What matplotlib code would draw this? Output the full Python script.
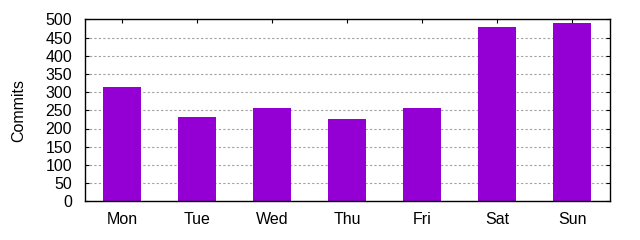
import matplotlib
matplotlib.use("Agg")
import matplotlib.pyplot as plt
import numpy as np

days = ["Mon", "Tue", "Wed", "Thu", "Fri", "Sat", "Sun"]
commits = [314, 231, 256, 226, 256, 479, 490]
yticks = list(range(0, 501, 50))

plt.rcParams["font.family"] = ["Liberation Sans", "DejaVu Sans"]

fig = plt.figure(figsize=(6.4, 2.4), dpi=100)
ax = fig.add_axes([84.5 / 640, 1 - 201.3 / 240, 525.2 / 640, 182 / 240])

x = np.arange(len(days))
ax.bar(x, commits, width=0.5, color="#9400D3", zorder=2)

ax.set_xlim(-0.5, len(days) - 0.5)
ax.set_ylim(0, 500)
ax.set_xticks(x)
ax.set_xticklabels(days, fontsize=11.5)
ax.set_yticks(yticks)
ax.set_yticklabels([str(v) for v in yticks], fontsize=11.5)
ax.tick_params(direction="in", top=True, right=True, length=3, width=0.8)
ax.tick_params(axis="y", pad=9)
ax.tick_params(axis="x", bottom=False, pad=7.5)
ax.yaxis.grid(True, linestyle=(0, (2, 2)), color="#a0a0a0", linewidth=0.8, zorder=0)
ax.set_axisbelow(True)
for s in ax.spines.values():
    s.set_linewidth(1.0)
ax.set_ylabel("Commits", fontsize=11.5, labelpad=14)

fig.savefig("out.png", dpi=100)
